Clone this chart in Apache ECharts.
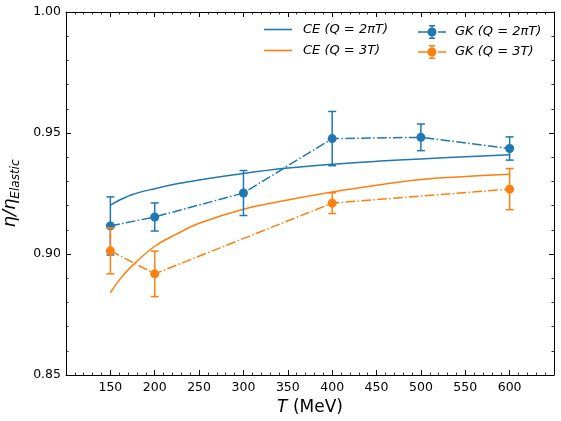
<!DOCTYPE html>
<html>
<head>
<meta charset="utf-8">
<script src="https://cdn.jsdelivr.net/npm/echarts@6/dist/echarts.min.js"></script>
<style>html,body{margin:0;padding:0;background:#fff}#c{width:561px;height:421px}</style>
</head>
<body>
<div id="c"></div>
<script>
// ---- data ----
const ceT = [150, 160, 175, 200, 225, 250, 300, 350, 400, 450, 500, 550, 600];
const ce2piT = [0.9202, 0.9222, 0.9246, 0.9270, 0.9290, 0.9306, 0.9333, 0.9355, 0.9371, 0.9383, 0.9393, 0.9402, 0.9410];
const ce3T = [0.8840, 0.8892, 0.8953, 0.9032, 0.9083, 0.9127, 0.9185, 0.9223, 0.9256, 0.9284, 0.9308, 0.9320, 0.9330];

const gk2piT_T = [150, 200, 300, 400, 500, 600];
const gk2piT = [0.9116, 0.9153, 0.9252, 0.9477, 0.9482, 0.9436];
const gk2piT_err = [0.0120, 0.0058, 0.0093, 0.0112, 0.0055, 0.0048];

const gk3T_T = [150, 200, 400, 600];
const gk3T = [0.9013, 0.8918, 0.9210, 0.9268];
const gk3T_err = [0.0095, 0.0094, 0.0043, 0.0085];

const xTicks = [150, 200, 250, 300, 350, 400, 450, 500, 550, 600];
const yTicks = [0.85, 0.90, 0.95, 1.00];

const names = ['CE (Q = 2πT)', 'CE (Q = 3T)', 'GK (Q = 2πT)', 'GK (Q = 3T)'];
// ---------------------------------------

const BLUE = '#1f77b4', ORANGE = '#ff7f0e';
const FONT = 'DejaVu Sans';
const DASHDOT = [9.6, 2.4, 1.5, 2.4];

// legend icon for error-bar entries: dash, marker with error bar, short dash
const ERR_ICON = 'path://M0 6.25H10V7.75H0Z' +
  'M20 6.25H28V7.75H20Z' +
  'M9.5 7A4.5 4.5 0 1 1 18.5 7A4.5 4.5 0 1 1 9.5 7Z' +
  'M13.25 0H14.75V14H13.25Z' +
  'M11 0H17V1.5H11Z' +
  'M11 12.5H17V14H11Z';

const zip = (xs, ys) => xs.map((x, i) => [x, ys[i]]);
const errData = (xs, ys, es) => xs.map((x, i) => [x, ys[i] - es[i], ys[i] + es[i]]);

function errRender(color) {
  return function (params, api) {
    const x = api.value(0);
    const lo = api.coord([x, api.value(1)]);
    const hi = api.coord([x, api.value(2)]);
    const cw = 4;
    const st = { stroke: color, lineWidth: 1.5 };
    return {
      type: 'group',
      children: [
        { type: 'line', shape: { x1: lo[0], y1: lo[1], x2: hi[0], y2: hi[1] }, style: st },
        { type: 'line', shape: { x1: lo[0] - cw, y1: lo[1], x2: lo[0] + cw, y2: lo[1] }, style: st },
        { type: 'line', shape: { x1: hi[0] - cw, y1: hi[1], x2: hi[0] + cw, y2: hi[1] }, style: st }
      ]
    };
  };
}

const axisCommon = {
  axisLine: { lineStyle: { color: '#000', width: 1 } },
  axisTick: { inside: true, length: 5, lineStyle: { color: '#000', width: 1 } },
  minorTick: { show: true, splitNumber: 5, length: 2.5, lineStyle: { color: '#000', width: 0.8 } },
  splitLine: { show: false },
  minorSplitLine: { show: false }
};

const legendText = { fontSize: 13, fontStyle: 'italic', fontFamily: FONT, color: '#000', padding: [0, 0, 0, 6] };

const chart = echarts.init(document.getElementById('c'), null, { renderer: 'canvas' });
chart.setOption({
  animation: false,
  backgroundColor: '#fff',
  textStyle: { fontFamily: FONT },
  grid: { left: 66, right: 7, top: 12, bottom: 46, containLabel: false, outerBoundsMode: 'none' },
  xAxis: [
    Object.assign({}, axisCommon, {
      type: 'value', min: 100, max: 650, interval: 50, position: 'bottom',
      axisLabel: {
        color: '#000', fontSize: 12.5, fontFamily: FONT, margin: 6,
        formatter: v => (xTicks.indexOf(v) >= 0 ? String(v) : '')
      },
      name: '{i|T} (MeV)', nameLocation: 'middle', nameGap: 21,
      nameTextStyle: { color: '#000', fontSize: 17, fontFamily: FONT, rich: { i: { fontStyle: 'italic', fontSize: 17, fontFamily: FONT } } }
    }),
    Object.assign({}, axisCommon, {
      type: 'value', min: 100, max: 650, interval: 50, position: 'top',
      axisLabel: { show: false }
    })
  ],
  yAxis: [
    Object.assign({}, axisCommon, {
      type: 'value', min: 0.85, max: 1.0, interval: 0.05, position: 'left',
      axisLabel: {
        color: '#000', fontSize: 12.5, fontFamily: FONT, margin: 5,
        formatter: v => {
          const t = yTicks.find(k => Math.abs(k - v) < 1e-9);
          return t !== undefined ? t.toFixed(2) : '';
        }
      },
      name: '{a|η/η}{b|Elastic}', nameLocation: 'middle', nameGap: 42,
      nameTextStyle: {
        color: '#000', fontFamily: FONT,
        rich: {
          a: { fontSize: 18, fontStyle: 'italic', fontFamily: FONT, lineHeight: 24 },
          b: { fontSize: 12, fontStyle: 'italic', fontFamily: FONT, lineHeight: 14, padding: [10, 0, 0, 0], verticalAlign: 'bottom' }
        }
      }
    }),
    Object.assign({}, axisCommon, {
      type: 'value', min: 0.85, max: 1.0, interval: 0.05, position: 'right',
      axisLabel: { show: false }
    })
  ],
  legend: [
    {
      data: [{ name: names[0], icon: 'rect' }, { name: names[1], icon: 'rect' }],
      orient: 'vertical', left: 259, top: 18,
      itemWidth: 28, itemHeight: 1.6, itemGap: 8,
      textStyle: legendText
    },
    {
      data: [{ name: names[2], icon: ERR_ICON }, { name: names[3], icon: ERR_ICON }],
      orient: 'vertical', left: 413, top: 20,
      itemWidth: 28, itemHeight: 14, itemGap: 6,
      textStyle: Object.assign({}, legendText, { padding: [0, 0, 0, 4] })
    }
  ],
  series: [
    {
      name: names[0], type: 'line', data: zip(ceT, ce2piT), smooth: 0.35, symbol: 'none',
      lineStyle: { color: BLUE, width: 1.5 }, itemStyle: { color: BLUE }, z: 2
    },
    {
      name: names[1], type: 'line', data: zip(ceT, ce3T), smooth: 0.35, symbol: 'none',
      lineStyle: { color: ORANGE, width: 1.5 }, itemStyle: { color: ORANGE }, z: 2
    },
    {
      name: 'err2pi', type: 'custom', data: errData(gk2piT_T, gk2piT, gk2piT_err),
      renderItem: errRender(BLUE), z: 3, silent: true
    },
    {
      name: names[2], type: 'line', data: zip(gk2piT_T, gk2piT), symbol: 'circle', symbolSize: 9,
      lineStyle: { color: BLUE, width: 1.5, type: DASHDOT }, itemStyle: { color: BLUE }, z: 4
    },
    {
      name: 'err3', type: 'custom', data: errData(gk3T_T, gk3T, gk3T_err),
      renderItem: errRender(ORANGE), z: 5, silent: true
    },
    {
      name: names[3], type: 'line', data: zip(gk3T_T, gk3T), symbol: 'circle', symbolSize: 9,
      lineStyle: { color: ORANGE, width: 1.5, type: DASHDOT }, itemStyle: { color: ORANGE }, z: 6
    }
  ]
});
</script>
</body>
</html>
